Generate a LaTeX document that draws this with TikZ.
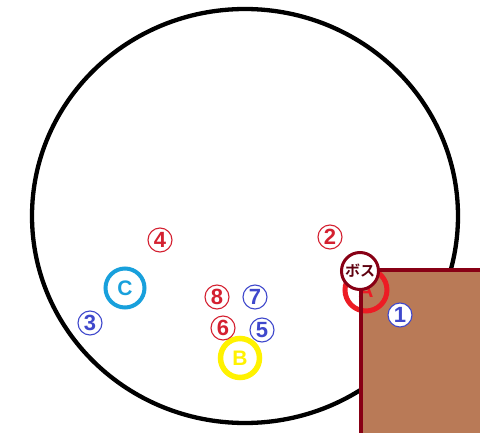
\documentclass[tikz,border=0pt]{standalone}
\usepackage{fontspec}
\setmainfont{Liberation Sans}
\newfontfamily\jpfont[BoldFont={Noto Sans CJK JP Bold}]{Noto Sans CJK JP}
\definecolor{wallfill}{HTML}{B97A57}
\definecolor{wallline}{HTML}{880015}
\definecolor{redmark}{HTML}{D42030}
\definecolor{bluemark}{HTML}{3F48CC}
\definecolor{ringa}{HTML}{ED1C24}
\definecolor{ringb}{HTML}{FFF200}
\definecolor{ringc}{HTML}{18A0DC}
\begin{document}
\begin{tikzpicture}[x=1pt,y=-1pt]
    \tikzstyle{every node}+=[inner sep=0pt]
    \tikzstyle{rednum}=[circle,draw=redmark,text=redmark,fill=white,line width=1.1pt,minimum size=24pt,font=\fontsize{22}{22}\selectfont\bfseries]
    \tikzstyle{bluenum}=[rednum,draw=bluemark,text=bluemark]
    \tikzstyle{spot}=[circle,fill=white,minimum size=39pt,font=\fontsize{21}{21}\selectfont\bfseries]
    \useasboundingbox (0,0) rectangle (480,433);
    \fill [white] (0,0) rectangle (480,433);
    % arena
    \draw [black,line width=4.3pt] (245,216) ellipse [x radius=213pt,y radius=207pt];
    % wall
    \fill [wallfill] (361,270) rectangle (484,437);
    \node [spot,draw=ringa,text=ringa,line width=5pt,minimum size=42pt,fill=none] (a) at (366,290) {A};
    \draw [wallline,line width=3.5pt] (361,437) -- (361,270) -- (484,270);
    \node [circle,draw=wallline,text=wallline!70!black,fill=white,line width=3pt,minimum size=37pt,font=\fontsize{15}{15}\selectfont\jpfont\bfseries] (boss) at (360,271) {ボス};
    % markers
    \node [spot,draw=ringc,text=ringc,line width=4pt] (c) at (125,288) {C};
    \node [spot,draw=ringb,text=ringb,line width=5.5pt] (b) at (240,358) {B};
    \node [bluenum] (n1) at (400,315) {1};
    \node [rednum] (n2) at (330,237) {2};
    \node [bluenum] (n3) at (90,323) {3};
    \node [rednum] (n4) at (160,240) {4};
    \node [bluenum] (n5) at (262,330) {5};
    \node [rednum] (n6) at (223,328) {6};
    \node [bluenum] (n7) at (255,297) {7};
    \node [rednum] (n8) at (217,297) {8};
\end{tikzpicture}
\end{document}
